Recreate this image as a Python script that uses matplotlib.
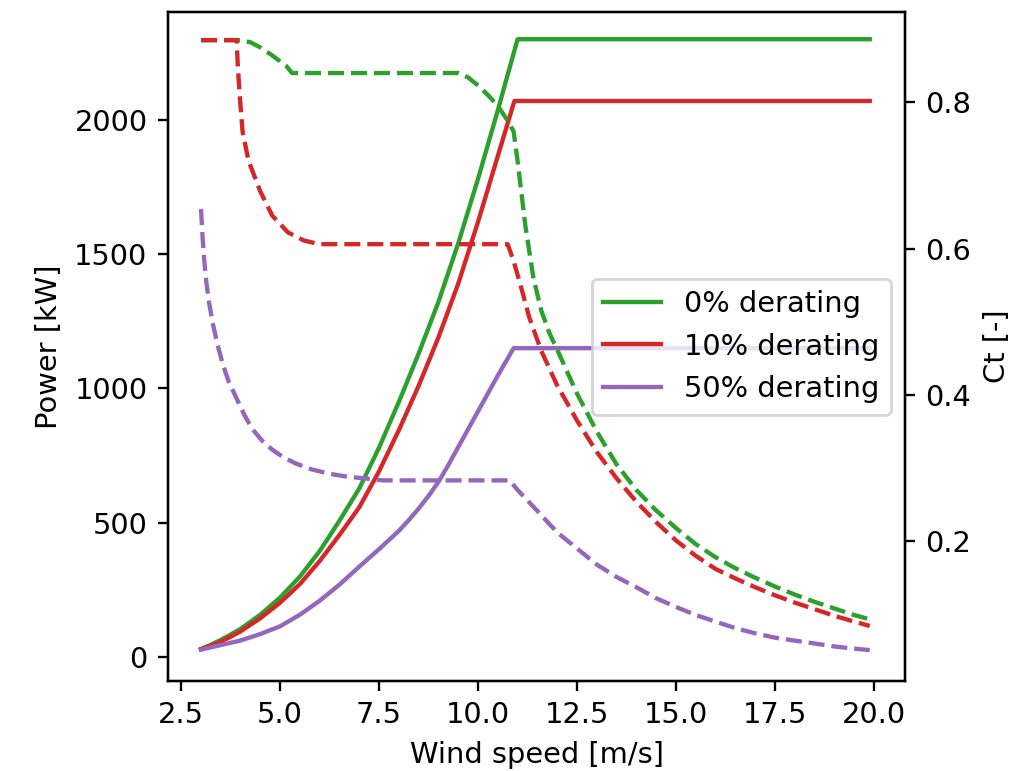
import matplotlib
matplotlib.use("Agg")
import matplotlib.pyplot as plt

labels = ["0% derating", "10% derating", "50% derating"]
colors = ["tab:green", "tab:red", "tab:purple"]

# power curves [kW]
ws_p0 = [3.0, 3.25, 3.5, 3.75, 4.0, 4.5, 5.0, 5.5, 6.0, 6.5, 7.0, 7.5, 8.0, 8.5, 9.0, 9.5, 10.0, 10.5, 11.0, 19.9]
p0 = [30, 46, 64, 84, 105, 158, 222, 300, 395, 508, 628, 780, 950, 1130, 1322, 1540, 1780, 2035, 2300, 2300]

ws_p10 = [3.0, 3.25, 3.5, 3.75, 4.0, 4.5, 5.0, 5.5, 6.0, 6.5, 7.0, 7.5, 8.0, 8.5, 9.0, 9.5, 10.0, 10.5, 10.92, 19.9]
p10 = [30, 43, 58, 76, 96, 145, 203, 272, 358, 455, 558, 692, 845, 1010, 1190, 1390, 1620, 1865, 2070, 2070]

ws_p50 = [3.0, 3.5, 4.0, 4.5, 5.0, 5.5, 6.0, 6.5, 7.0, 7.5, 8.0, 8.25, 8.5, 8.75, 9.0, 9.25, 9.5, 10.0, 10.5, 10.9, 19.9]
p50 = [28, 45, 62, 86, 115, 158, 210, 270, 337, 402, 470, 510, 553, 600, 652, 715, 782, 915, 1048, 1150, 1150]

# thrust coefficients [-]
ws_ct0 = [3.0, 4.0, 4.25, 4.5, 4.75, 5.0, 5.15, 5.3, 9.5, 9.75, 10.0, 10.25, 10.5, 10.75, 10.9,
          11.0, 11.2, 11.4, 11.6, 11.8, 12.0, 12.5, 13.0, 13.5, 14.0, 14.5, 15.0, 15.5, 16.0,
          16.5, 17.0, 17.5, 18.0, 18.5, 19.0, 19.5, 19.9]
ct0 = [0.885, 0.885, 0.882, 0.875, 0.866, 0.856, 0.85, 0.84, 0.84, 0.834, 0.823, 0.81, 0.795, 0.775, 0.76,
       0.72, 0.63, 0.56, 0.515, 0.485, 0.462, 0.402, 0.35, 0.305, 0.27, 0.242, 0.218, 0.196, 0.178,
       0.163, 0.15, 0.138, 0.127, 0.117, 0.108, 0.099, 0.093]

ws_ct10 = [3.0, 3.9, 3.93, 3.97, 4.05, 4.2, 4.5, 4.8, 5.2, 5.6, 6.0, 10.75, 10.9, 11.1, 11.3, 11.6,
           12.0, 12.5, 13.0, 13.5, 14.0, 14.5, 15.0, 15.5, 16.0, 16.5, 17.0, 17.5, 18.0, 18.5,
           19.0, 19.5, 19.9]
ct10 = [0.885, 0.885, 0.85, 0.815, 0.76, 0.72, 0.678, 0.645, 0.622, 0.611, 0.606, 0.606, 0.583, 0.545, 0.505, 0.46,
        0.413, 0.365, 0.322, 0.286, 0.254, 0.226, 0.201, 0.18, 0.162, 0.149, 0.137, 0.126, 0.116, 0.107,
        0.098, 0.09, 0.084]

ws_ct50 = [3.0, 3.04, 3.08, 3.13, 3.2, 3.3, 3.42, 3.55, 3.7, 3.9, 4.1, 4.3, 4.55, 4.8, 5.1, 5.4, 5.8,
           6.25, 6.7, 7.1, 7.6, 10.8, 11.0, 11.4, 12.0, 12.5, 13.0, 13.5, 14.0, 14.5, 15.0, 15.5,
           16.0, 16.5, 17.0, 17.5, 18.0, 18.5, 19.0, 19.5, 19.9]
ct50 = [0.654, 0.615, 0.585, 0.556, 0.527, 0.497, 0.468, 0.442, 0.418, 0.395, 0.372, 0.353, 0.337, 0.325, 0.314, 0.306, 0.298,
        0.292, 0.288, 0.286, 0.283, 0.283, 0.27, 0.247, 0.212, 0.19, 0.168, 0.151, 0.137, 0.122, 0.11, 0.099,
        0.09, 0.081, 0.074, 0.068, 0.064, 0.06, 0.056, 0.053, 0.051]

power = [(ws_p0, p0), (ws_p10, p10), (ws_p50, p50)]
thrust = [(ws_ct0, ct0), (ws_ct10, ct10), (ws_ct50, ct50)]

fig = plt.figure(figsize=(1023 / 208, 771 / 208), dpi=208)
ax = fig.add_axes([0.164, 0.117, 0.721, 0.867])
ax2 = ax.twinx()

for (ws, p), c, lab in zip(power, colors, labels):
    ax.plot(ws, p, color=c, label=lab)

for (ws, ct), c in zip(thrust, colors):
    ax2.plot(ws, ct, color=c, linestyle="--")

ax.set_xlim(2.16, 20.8)
ax.set_ylim(-88, 2400)
ax2.set_ylim(0.009, 0.923)
ax.set_yticks([0, 500, 1000, 1500, 2000])
ax2.set_yticks([0.2, 0.4, 0.6, 0.8])

ax.set_xlabel("Wind speed [m/s]")
ax.set_ylabel("Power [kW]")
ax2.set_ylabel("Ct [-]")
ax.legend(loc="center right")

fig.savefig("out.png", dpi=208)
